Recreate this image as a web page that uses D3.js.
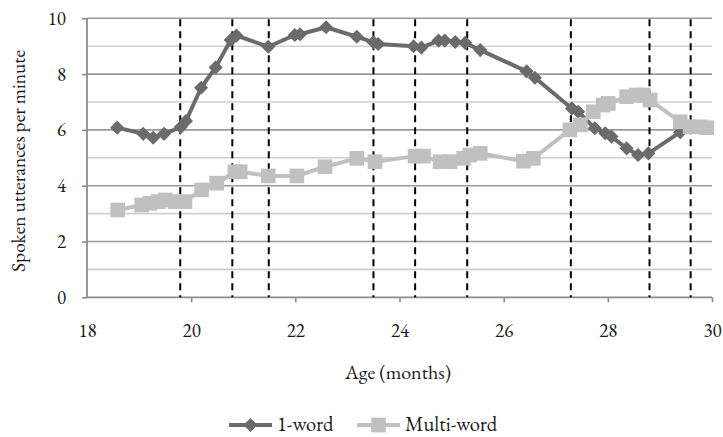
<!DOCTYPE html>
<html>
<head>
<meta charset="utf-8">
<script src="https://cdn.jsdelivr.net/npm/d3@7"></script>
<style>
  html, body { margin: 0; padding: 0; background: #fff; }
  svg { display: block; }
</style>
</head>
<body>
<svg id="chart" width="723" height="437"></svg>
<script>
// ---- data ----
const oneWordAge = [18.58, 19.08, 19.27, 19.48, 19.8, 19.9, 20.19, 20.47, 20.76, 20.87, 21.48, 21.99, 22.09, 22.59, 23.18, 23.5, 23.59, 24.27, 24.42, 24.75, 24.87, 25.07, 25.26, 25.55, 26.44, 26.6, 27.31, 27.43, 27.75, 27.95, 28.07, 28.36, 28.58, 28.78, 29.39];
const oneWordRate = [6.08, 5.86, 5.72, 5.86, 6.1, 6.32, 7.51, 8.24, 9.22, 9.38, 8.98, 9.4, 9.43, 9.68, 9.34, 9.14, 9.08, 9.0, 8.95, 9.2, 9.2, 9.15, 9.12, 8.86, 8.1, 7.87, 6.77, 6.65, 6.06, 5.88, 5.76, 5.34, 5.1, 5.16, 5.92];
const multiWordAge = [18.59, 19.05, 19.21, 19.37, 19.5, 19.69, 19.88, 20.2, 20.49, 20.84, 20.94, 21.48, 22.03, 22.57, 23.18, 23.53, 24.3, 24.46, 24.78, 24.97, 25.23, 25.35, 25.55, 26.38, 26.57, 27.27, 27.47, 27.72, 27.91, 28.01, 28.36, 28.55, 28.68, 28.81, 29.39, 29.58, 29.77, 29.9];
const multiWordRate = [3.13, 3.31, 3.37, 3.43, 3.49, 3.43, 3.43, 3.85, 4.09, 4.5, 4.5, 4.35, 4.35, 4.68, 4.98, 4.86, 5.06, 5.06, 4.86, 4.86, 4.98, 5.1, 5.16, 4.88, 4.98, 6.0, 6.18, 6.65, 6.89, 6.95, 7.19, 7.25, 7.25, 7.07, 6.29, 6.11, 6.11, 6.08];
const dashedAges = [19.79, 20.79, 21.49, 23.5, 24.3, 25.3, 27.29, 28.8, 29.59];
const xTicks = [18, 20, 22, 24, 26, 28, 30];
const yTicks = [0, 2, 4, 6, 8, 10];
const yMinor = [1, 3, 5, 7, 9];
const seriesNames = ["1-word", "Multi-word"];
const seriesColors = ["#6b6b6b", "#c0c0c0"];
const xTitle = "Age (months)";
const yTitle = "Spoken utterances per minute";

// ---- layout ----
const FONT = "'EB Garamond', 'Liberation Serif', 'Times New Roman', serif";
const TXT = "#1a1a1a";
const svg = d3.select("#chart").attr("font-family", FONT);
const x = d3.scaleLinear().domain([18, 30]).range([87, 712]);
const y = d3.scaleLinear().domain([0, 10]).range([297.3, 18.3]);

// minor gridlines
svg.append("g").selectAll("line").data(yMinor).join("line")
  .attr("x1", x(18)).attr("x2", x(30))
  .attr("y1", d => y(d)).attr("y2", d => y(d))
  .attr("stroke", "#d0d0d0").attr("stroke-width", 1.6);
// major gridlines
svg.append("g").selectAll("line").data(yTicks.filter(d => d > 0)).join("line")
  .attr("x1", x(18)).attr("x2", x(30))
  .attr("y1", d => y(d)).attr("y2", d => y(d))
  .attr("stroke", "#9a9a9a").attr("stroke-width", 1.6);

// axes
const yAxis = svg.append("g").attr("transform", `translate(${x(18)},0)`)
  .call(d3.axisLeft(y).tickValues(yTicks).tickSize(5).tickPadding(16).tickFormat(d3.format("d")));
const xAxis = svg.append("g").attr("transform", `translate(0,${y(0)})`)
  .call(d3.axisBottom(x).tickValues(xTicks).tickSize(5).tickPadding(24).tickFormat(d3.format("d")));
[yAxis, xAxis].forEach(a => {
  a.attr("font-family", FONT).attr("font-size", 19);
  a.select(".domain").attr("stroke", "#8c8c8c").attr("stroke-width", 1.8);
  a.selectAll(".tick line").attr("stroke", "#8c8c8c").attr("stroke-width", 1.6);
  a.selectAll(".tick text").attr("fill", TXT);
});
xAxis.selectAll(".tick text").attr("y", 40).attr("dy", null);
xAxis.select(".domain").attr("d", `M${x(18)},0H${x(30)}`);
xAxis.selectAll(".tick").filter(d => d === 18).select("line").remove();
yAxis.select(".domain").attr("d", `M0,${y(10)}V${y(0)}`);

// dashed verticals
svg.append("g").selectAll("line").data(dashedAges).join("line")
  .attr("x1", d => x(d)).attr("x2", d => x(d))
  .attr("y1", y(10) + 1).attr("y2", y(0))
  .attr("stroke", "#000").attr("stroke-width", 2)
  .attr("stroke-dasharray", "7,5");

// series
const one = oneWordAge.map((a, i) => [a, oneWordRate[i]]);
const multi = multiWordAge.map((a, i) => [a, multiWordRate[i]]);
const line = d3.line().x(d => x(d[0])).y(d => y(d[1]));
const rhombus = {
  draw(ctx, size) {
    const r = Math.sqrt(size / 2);
    ctx.moveTo(0, -r); ctx.lineTo(r, 0); ctx.lineTo(0, r); ctx.lineTo(-r, 0); ctx.closePath();
  }
};
const diamond = d3.symbol().type(rhombus).size(100);
const square = d3.symbol().type(d3.symbolSquare).size(215);

function drawSeries(data, color, sym) {
  const g = svg.append("g");
  g.append("path").datum(data).attr("d", line)
    .attr("fill", "none").attr("stroke", color).attr("stroke-width", 4)
    .attr("stroke-linejoin", "round");
  g.selectAll("path.m").data(data).join("path").attr("class", "m")
    .attr("transform", d => `translate(${x(d[0])},${y(d[1])})`)
    .attr("d", sym).attr("fill", color);
}
drawSeries(one, seriesColors[0], diamond);
drawSeries(multi, seriesColors[1], square);

// titles
svg.append("text").attr("x", 398).attr("y", 379).attr("text-anchor", "middle")
  .attr("font-size", 20).attr("fill", TXT).text(xTitle);
svg.append("text").attr("transform", "translate(25,161) rotate(-90)").attr("text-anchor", "middle")
  .attr("font-size", 19.5).attr("fill", TXT).text(yTitle);

// legend
const legend = [
  { name: seriesNames[0], color: seriesColors[0], sym: diamond, x0: 229 },
  { name: seriesNames[1], color: seriesColors[1], sym: square, x0: 357 }
];
const lg = svg.append("g");
legend.forEach(l => {
  lg.append("line").attr("x1", l.x0).attr("x2", l.x0 + 43).attr("y1", 425).attr("y2", 425)
    .attr("stroke", l.color).attr("stroke-width", 4);
  lg.append("path").attr("transform", `translate(${l.x0 + 21.5},425)`).attr("d", l.sym).attr("fill", l.color);
  lg.append("text").attr("x", l.x0 + 48).attr("y", 431)
    .attr("font-size", 20.5).attr("fill", TXT).text(l.name);
});
</script>
</body>
</html>
